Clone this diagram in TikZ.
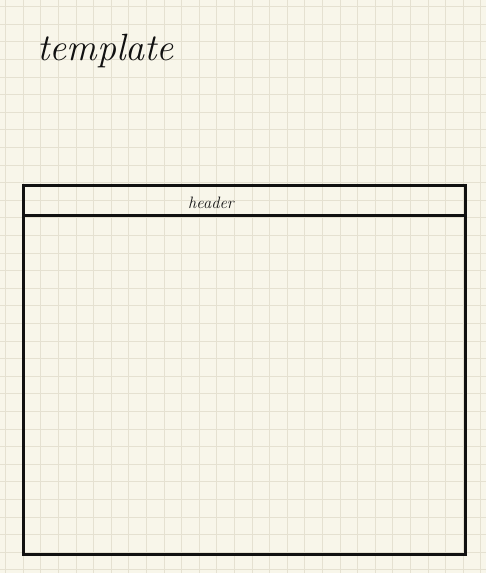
\documentclass[tikz,border=0pt]{standalone}
\usepackage{fontspec}
\definecolor{paper}{RGB}{248,246,234}
\definecolor{gridc}{RGB}{229,225,209}
\definecolor{ink}{RGB}{17,17,17}
\tikzset{
  gridline/.style={draw=gridc, line width=1pt},
  frameline/.style={draw=ink, line width=2.6pt},
  hand/.style={inner sep=0pt, text=ink, font=\itshape},
}
\begin{document}
\begin{tikzpicture}[x=1pt,y=-1pt]
\useasboundingbox (0,0) rectangle (486,573);
\fill[paper] (0,0) rectangle (486,573);
\foreach \k in {0,...,27} {\draw[gridline] ({5.6+17.6*\k},0) -- ({5.6+17.6*\k},573);}
\foreach \k in {0,...,32} {\draw[gridline] (0,{6.7+17.6*\k}) -- (486,{6.7+17.6*\k});}
\node[hand, anchor=base west, font=\fontsize{38}{40}\selectfont\itshape] (title) at (37,60) {template};
\node[frameline, minimum width=442pt, minimum height=369pt, inner sep=0pt, anchor=north west] (frame) at (22,184) {};
\coordinate (hl) at (22,215.5);
\coordinate (hr) at (467,215.5);
\draw[frameline] (hl) -- (hr);
\node[hand, anchor=base west, font=\fontsize{16.5}{18}\selectfont\itshape] (header) at (188,208) {header};
\end{tikzpicture}
\end{document}
